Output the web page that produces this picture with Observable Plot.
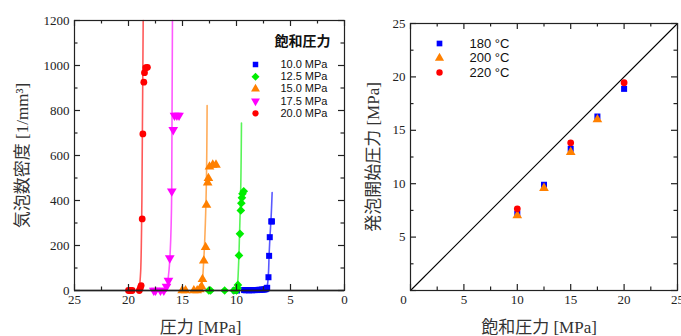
<!DOCTYPE html>
<html><head><meta charset="utf-8">
<script src="https://cdn.jsdelivr.net/npm/d3@7"></script>
<script src="https://cdn.jsdelivr.net/npm/@observablehq/plot@0.6"></script>
<style>
body{margin:0;background:#fff}
#wrap{position:relative;width:681px;height:336px;overflow:hidden;background:#fff}
</style></head><body><div id="wrap"></div>
<script>
// ---------- Left chart data ----------
const leftSeries = ["10.0 MPa","12.5 MPa","15.0 MPa","17.5 MPa","20.0 MPa"];
const leftColors = ["#0000ff","#00ee00","#ff8000","#ff00ff","#ff0000"];
const leftSymbols = ["square","diamond2","triangle","triangle","circle"];
const leftRotate = [0,0,0,180,0];
// measured points [pressure MPa, bubble density 1/mm3]
const pts100 = [[10.15,0],[9.95,0],[9.3,2],[9.15,1],[9.0,2],[8.85,1],[8.7,2],[8.55,1],[8.4,2],[8.25,2],[8.1,2],[7.95,3],[7.8,3],[7.65,4],[7.5,4],[7.4,5],[7.3,6],[7.22,9],[7.16,12],[7.04,59],[6.98,154],[6.92,237],[6.78,307],[6.72,307]];
const pts125 = [[12.56,0],[12.4,0],[11.1,0],[10.25,0],[10.0,0],[9.9,10],[9.87,25],[9.77,156],[9.68,252],[9.6,356],[9.55,388],[9.5,412],[9.45,430],[9.33,441]];
const pts150 = [[15.03,0],[14.72,0],[13.95,0],[13.64,0],[13.4,5],[13.24,18],[13.15,50],[13.03,132],[12.86,192],[12.78,380],[12.67,479],[12.6,499],[12.5,550],[12.2,558],[11.9,558]];
const pts175 = [[17.66,0],[17.5,0],[17.04,0],[16.73,0],[16.48,18],[16.3,44],[16.18,144],[15.99,441],[15.86,714],[15.74,778],[15.52,778],[15.32,778]];
const pts200 = [[20.0,0],[19.85,0],[19.66,0],[19.0,0],[18.9,12],[18.83,22],[18.73,318],[18.67,696],[18.58,926],[18.52,968],[18.4,990],[18.25,992]];
// fitted curves
const fit100 = [[9.4,0],[7.4,5],[7.15,20],[7.05,70],[6.98,160],[6.9,240],[6.8,320],[6.7,435]];
const fit125 = [[10.1,0],[9.92,20],[9.82,100],[9.72,250],[9.63,400],[9.54,744]];
const fit150 = [[13.4,0],[13.2,30],[13.05,120],[12.92,250],[12.8,450],[12.72,822]];
const fit175 = [[16.7,0],[16.45,20],[16.27,80],[16.15,160],[16.0,440],[15.93,1200]];
const fit200 = [[19.0,0],[18.86,100],[18.76,400],[18.64,1200]];
const leftPts = [pts100,pts125,pts150,pts175,pts200];
const leftFits = [fit100,fit125,fit150,fit175,fit200];
const leftXTicks = [25,20,15,10,5,0];
const leftXMinor = [22.5,17.5,12.5,7.5,2.5];
const leftYTicks = [0,200,400,600,800,1000,1200];
const leftYMinor = [100,300,500,700,900,1100];

// ---------- Right chart data ----------
const rightSeries = ["180 °C","200 °C","220 °C"];
const rightColors = ["#0000ff","#ff8000","#ff0000"];
const rightSymbols = ["square","triangle","circle"];
const sat180 = [[10,7.18],[12.5,9.9],[15,13.27],[17.5,16.29],[20,18.88]];
const sat200 = [[10,7.02],[12.5,9.58],[15,12.95],[17.5,16.01]];
const sat220 = [[10,7.65],[15,13.83],[20,19.45]];
const rightPts = [sat180,sat200,sat220];
const rightDomain = [0,25];
const rightTicks = [0,5,10,15,20,25];
const rightMinor = [2.5,7.5,12.5,17.5,22.5];

const serif = "Liberation Serif, Times New Roman, serif";
const sans = "Liberation Sans, Arial, sans-serif";
const jp = "Liberation Serif, Noto Sans CJK JP, serif";
const ink = "#222";
const fmt = d => String(d);

function frameTicks(xMaj, xMin, yMaj, yMin, iw, ih) {
  const m = [];
  const M = 6, m2 = 3.5;
  m.push(Plot.tickX(xMaj, {x: d => d, insetTop: ih - M, stroke: ink, strokeWidth: 1.2}));
  m.push(Plot.tickX(xMaj, {x: d => d, insetBottom: ih - M, stroke: ink, strokeWidth: 1.2}));
  m.push(Plot.tickX(xMin, {x: d => d, insetTop: ih - m2, stroke: ink, strokeWidth: 1.2}));
  m.push(Plot.tickX(xMin, {x: d => d, insetBottom: ih - m2, stroke: ink, strokeWidth: 1.2}));
  m.push(Plot.tickY(yMaj, {y: d => d, insetRight: iw - M, stroke: ink, strokeWidth: 1.2}));
  m.push(Plot.tickY(yMaj, {y: d => d, insetLeft: iw - M, stroke: ink, strokeWidth: 1.2}));
  m.push(Plot.tickY(yMin, {y: d => d, insetRight: iw - m2, stroke: ink, strokeWidth: 1.2}));
  m.push(Plot.tickY(yMin, {y: d => d, insetLeft: iw - m2, stroke: ink, strokeWidth: 1.2}));
  return m;
}
function xLabels(ticks, opts = {}) {
  return Plot.text(ticks, {x: d => d, text: fmt, frameAnchor: "bottom", lineAnchor: "top", dy: 4, fontFamily: serif, fontSize: 13, fill: ink, ...opts});
}
function yLabels(ticks) {
  return Plot.text(ticks, {y: d => d, text: fmt, frameAnchor: "left", textAnchor: "end", lineAnchor: "middle", dx: -5, fontFamily: serif, fontSize: 13, fill: ink});
}

const wrap = document.getElementById("wrap");

// ---------- Left plot ----------
const LW = 350, LH = 336, LML = 74, LMR = 6, LMT = 20, LMB = 46;
const liw = LW - LML - LMR, lih = LH - LMT - LMB;
const leftMarks = [];
leftFits.forEach((f, i) => {
  leftMarks.push(Plot.line(f, {x: d => d[0], y: d => d[1], stroke: leftColors[i], strokeOpacity: 0.65, strokeWidth: 1.6, curve: "monotone-y"}));
});
const rOf = s => s === "triangle" ? 3.6 : s === "diamond2" ? 3.9 : 3.4;
leftPts.forEach((p, i) => {
  leftMarks.push(Plot.dot(p, {x: d => d[0], y: d => d[1], fill: leftColors[i], symbol: leftSymbols[i], rotate: leftRotate[i], r: rOf(leftSymbols[i])}));
});
leftMarks.push(Plot.ruleY([0], {stroke: "#000", strokeWidth: 1.6}));
leftMarks.push(Plot.frame({stroke: ink, strokeWidth: 1.2}));
leftMarks.push(...frameTicks(leftXTicks, leftXMinor, leftYTicks, leftYMinor, liw, lih));
leftMarks.push(xLabels(leftXTicks));
leftMarks.push(yLabels(leftYTicks));
// axis titles
leftMarks.push(Plot.text(["圧力 [MPa]"], {frameAnchor: "bottom", dx: -9, dy: 37, fontFamily: jp, fontSize: 17, fill: "#333", textAnchor: "middle", lineAnchor: "middle"}));
leftMarks.push(Plot.text(["気泡数密度 [1/mm³]"], {frameAnchor: "left", dx: -52, rotate: -90, fontFamily: jp, fontSize: 17, fill: "#333", textAnchor: "middle", lineAnchor: "middle"}));
// legend
leftMarks.push(Plot.text(["飽和圧力"], {frameAnchor: "top-right", dx: -14, dy: 21, textAnchor: "end", lineAnchor: "middle", fontFamily: "Noto Sans CJK JP, sans-serif", fontWeight: "bold", fontSize: 14, fill: "#111"}));
leftSeries.forEach((s, i) => {
  const dy = 44 + i * 12.2;
  leftMarks.push(Plot.dot([s], {frameAnchor: "top-right", dx: -89, dy, fill: leftColors[i], symbol: leftSymbols[i], rotate: leftRotate[i], r: rOf(leftSymbols[i]) - 0.3}));
  leftMarks.push(Plot.text([s], {frameAnchor: "top-right", dx: -17, dy, text: d => d, textAnchor: "end", lineAnchor: "middle", fontFamily: sans, fontSize: 11, fill: "#111"}));
});
const left = Plot.plot({
  width: LW, height: LH, marginLeft: LML, marginRight: LMR, marginTop: LMT, marginBottom: LMB,
  x: {domain: [25, 0], label: null, axis: null},
  y: {domain: [0, 1200], label: null, axis: null},
  style: {position: "absolute", left: "0px", top: "0px", background: "none", overflow: "visible", fontFamily: serif},
  marks: leftMarks
});
wrap.appendChild(left);

// ---------- Right plot ----------
const RW = 336, RH = 336, RML = 65, RMR = 4, RMT = 23, RMB = 46;
const riw = RW - RML - RMR, rih = RH - RMT - RMB;
const rightMarks = [];
rightMarks.push(Plot.line(rightDomain.map(v => [v, v]), {x: d => d[0], y: d => d[1], stroke: "#000", strokeWidth: 1.1}));
rightPts.forEach((p, i) => {
  rightMarks.push(Plot.dot(p, {x: d => d[0], y: d => d[1], fill: rightColors[i], symbol: rightSymbols[i], r: rOf(rightSymbols[i])}));
});
rightMarks.push(Plot.frame({stroke: ink, strokeWidth: 1.2}));
rightMarks.push(...frameTicks(rightTicks, rightMinor, rightTicks, rightMinor, riw, rih));
rightMarks.push(xLabels(rightTicks.slice(1)));
rightMarks.push(xLabels(rightTicks.slice(0, 1), {dx: -7}));
rightMarks.push(yLabels(rightTicks.slice(1)));
rightMarks.push(Plot.text(["飽和圧力 [MPa]"], {frameAnchor: "bottom", dx: -5, dy: 37, fontFamily: jp, fontSize: 17, fill: "#333", textAnchor: "middle", lineAnchor: "middle"}));
rightMarks.push(Plot.text(["発泡開始圧力 [MPa]"], {frameAnchor: "left", dx: -37, rotate: -90, fontFamily: jp, fontSize: 17, fill: "#333", textAnchor: "middle", lineAnchor: "middle"}));
rightSeries.forEach((s, i) => {
  const dy = 20 + i * 14.5;
  rightMarks.push(Plot.dot([s], {frameAnchor: "top-left", dx: 29, dy, fill: rightColors[i], symbol: rightSymbols[i], r: rOf(rightSymbols[i]) - 0.2}));
  rightMarks.push(Plot.text([s], {frameAnchor: "top-left", dx: 59, dy, text: d => d, textAnchor: "start", lineAnchor: "middle", fontFamily: sans, fontSize: 13, fill: "#111"}));
});
const right = Plot.plot({
  width: RW, height: RH, marginLeft: RML, marginRight: RMR, marginTop: RMT, marginBottom: RMB,
  x: {domain: rightDomain, label: null, axis: null},
  y: {domain: rightDomain, label: null, axis: null},
  style: {position: "absolute", left: "345px", top: "0px", background: "none", overflow: "visible", fontFamily: serif},
  marks: rightMarks
});
wrap.appendChild(right);
</script></body></html>
